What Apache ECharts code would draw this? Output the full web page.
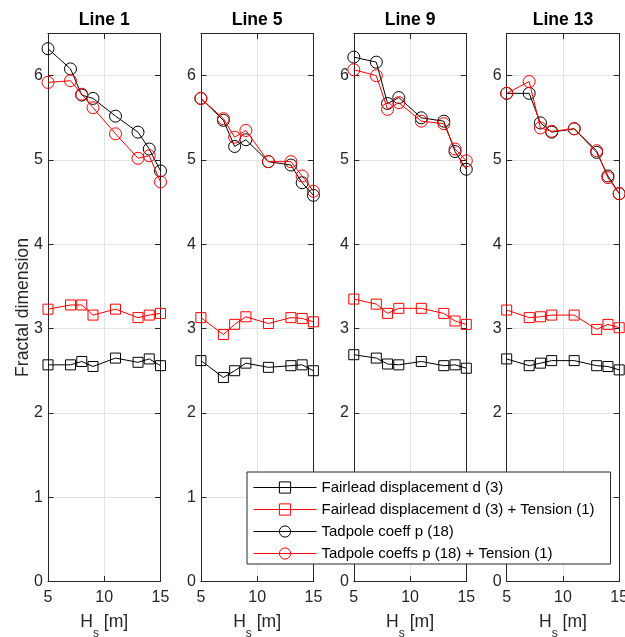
<!DOCTYPE html>
<html>
<head>
<meta charset="utf-8">
<script src="https://cdn.jsdelivr.net/npm/echarts@6/dist/echarts.min.js"></script>
<style>
  html, body { margin: 0; padding: 0; background: #fff; }
  #chart { width: 625px; height: 637px; }
</style>
</head>
<body>
<div id="chart"></div>
<script>
// Significant wave height (m) at which each case was evaluated
const hs = [5, 7, 8, 9, 11, 13, 14, 15];

const panelTitles = ['Line 1', 'Line 5', 'Line 9', 'Line 13'];

const seriesNames = [
  'Fairlead displacement d (3)',
  'Fairlead displacement d (3) + Tension (1)',
  'Tadpole coeff p (18)',
  'Tadpole coeffs p (18) + Tension (1)'
];

// Fractal dimension, one array per feature set and mooring line
const dispLine1 = [2.57, 2.57, 2.61, 2.55, 2.65, 2.60, 2.64, 2.56];
const dispTensionLine1 = [3.23, 3.28, 3.28, 3.16, 3.23, 3.13, 3.16, 3.18];
const tadpoleLine1 = [6.32, 6.08, 5.77, 5.73, 5.52, 5.33, 5.13, 4.87];
const tadpoleTensionLine1 = [5.92, 5.94, 5.78, 5.62, 5.31, 5.02, 5.05, 4.74];

const dispLine5 = [2.62, 2.42, 2.50, 2.59, 2.54, 2.56, 2.57, 2.50];
const dispTensionLine5 = [3.13, 2.93, 3.05, 3.14, 3.06, 3.13, 3.12, 3.08];
const tadpoleLine5 = [5.73, 5.47, 5.16, 5.24, 4.98, 4.94, 4.73, 4.58];
const tadpoleTensionLine5 = [5.73, 5.49, 5.27, 5.35, 4.98, 4.98, 4.81, 4.63];

const dispLine9 = [2.69, 2.65, 2.58, 2.57, 2.61, 2.56, 2.57, 2.53];
const dispTensionLine9 = [3.35, 3.29, 3.18, 3.24, 3.24, 3.18, 3.09, 3.05];
const tadpoleLine9 = [6.22, 6.16, 5.67, 5.74, 5.50, 5.46, 5.10, 4.89];
const tadpoleTensionLine9 = [6.07, 6.00, 5.60, 5.68, 5.46, 5.43, 5.13, 4.99];

const dispLine13 = [2.64, 2.56, 2.59, 2.62, 2.62, 2.56, 2.55, 2.51];
const dispTensionLine13 = [3.22, 3.13, 3.14, 3.16, 3.16, 2.99, 3.05, 3.01];
const tadpoleLine13 = [5.79, 5.79, 5.44, 5.33, 5.37, 5.09, 4.81, 4.60];
const tadpoleTensionLine13 = [5.79, 5.93, 5.38, 5.34, 5.37, 5.11, 4.79, 4.60];

const panels = [
  [dispLine1, dispTensionLine1, tadpoleLine1, tadpoleTensionLine1],
  [dispLine5, dispTensionLine5, tadpoleLine5, tadpoleTensionLine5],
  [dispLine9, dispTensionLine9, tadpoleLine9, tadpoleTensionLine9],
  [dispLine13, dispTensionLine13, tadpoleLine13, tadpoleTensionLine13]
];

const yTicks = [0, 1, 2, 3, 4, 5, 6];
const xTicks = [5, 10, 15];

// Styling per feature set: colour and marker
const seriesColors = ['#000000', '#ff0000', '#000000', '#ff0000'];
const seriesSymbols = ['rect', 'rect', 'circle', 'circle'];
const seriesSymbolSizes = [10, 10, 12, 12];

const FONT = '"Liberation Sans", Arial, Helvetica, sans-serif';
const AXIS_COLOR = '#262626';
const GRID_COLOR = '#e3e3e3';

const gridLefts = [48, 200.9, 353.8, 506.7];
const gridWidth = 112.5;
const gridTop = 33.5;
const gridHeight = 548;

const grids = [];
const xAxes = [];
const yAxes = [];
const titles = [];
const series = [];

panels.forEach((panel, p) => {
  grids.push({
    left: gridLefts[p], top: gridTop, width: gridWidth, height: gridHeight,
    containLabel: false, outerBoundsMode: 'none'
  });

  titles.push({
    text: panelTitles[p],
    left: gridLefts[p] + gridWidth / 2,
    top: 11,
    textAlign: 'center',
    padding: 0,
    textStyle: { fontFamily: FONT, fontSize: 17.6, fontWeight: 'bold', color: '#000' }
  });

  const tickStyle = { show: true, inside: true, length: 5.5, lineStyle: { color: AXIS_COLOR, width: 1 } };
  const lineStyle = { show: true, onZero: false, lineStyle: { color: AXIS_COLOR, width: 1 } };

  // bottom x axis with labels
  xAxes.push({
    type: 'value', gridIndex: p, position: 'bottom',
    min: xTicks[0], max: xTicks[xTicks.length - 1], interval: xTicks[1] - xTicks[0],
    axisLine: lineStyle, axisTick: tickStyle,
    splitLine: { show: true, lineStyle: { color: GRID_COLOR, width: 1 } },
    axisLabel: { show: true, margin: 8, fontFamily: FONT, fontSize: 16, color: AXIS_COLOR },
    name: '{m|H}{sub|s}{m| [m]}',
    nameLocation: 'middle',
    nameGap: 32,
    nameMoveOverlap: false,
    nameTextStyle: {
      fontFamily: FONT, fontSize: 17.6, color: AXIS_COLOR,
      rich: {
        m: { fontFamily: FONT, fontSize: 17.6, lineHeight: 22, verticalAlign: 'top', color: AXIS_COLOR },
        sub: { fontFamily: FONT, fontSize: 12, lineHeight: 12, padding: [14, 0, 0, 0], verticalAlign: 'top', color: AXIS_COLOR }
      }
    }
  });
  // top x axis, ticks only
  xAxes.push({
    type: 'value', gridIndex: p, position: 'top',
    min: xTicks[0], max: xTicks[xTicks.length - 1], interval: xTicks[1] - xTicks[0],
    axisLine: lineStyle, axisTick: tickStyle,
    splitLine: { show: false }, axisLabel: { show: false }
  });
  // left y axis with labels
  yAxes.push({
    type: 'value', gridIndex: p, position: 'left',
    min: yTicks[0], max: 6.5, interval: yTicks[1] - yTicks[0],
    axisLine: lineStyle, axisTick: tickStyle,
    splitLine: { show: true, lineStyle: { color: GRID_COLOR, width: 1 } },
    axisLabel: { show: true, margin: 5, showMaxLabel: false, fontFamily: FONT, fontSize: 16, color: AXIS_COLOR },
    name: p === 0 ? 'Fractal dimension' : '',
    nameLocation: 'middle',
    nameGap: 16,
    nameMoveOverlap: false,
    nameTextStyle: { fontFamily: FONT, fontSize: 17.6, color: AXIS_COLOR }
  });
  // right y axis, ticks only
  yAxes.push({
    type: 'value', gridIndex: p, position: 'right',
    min: yTicks[0], max: 6.5, interval: yTicks[1] - yTicks[0],
    axisLine: lineStyle, axisTick: tickStyle,
    splitLine: { show: false }, axisLabel: { show: false }
  });

  panel.forEach((values, s) => {
    series.push({
      name: seriesNames[s],
      type: 'line',
      xAxisIndex: p * 2,
      yAxisIndex: p * 2,
      data: hs.map((h, i) => [h, values[i]]),
      symbol: seriesSymbols[s],
      symbolSize: seriesSymbolSizes[s],
      showAllSymbol: true,
      clip: false,
      silent: true,
      z: 2 + s,
      lineStyle: { color: seriesColors[s], width: 1 },
      itemStyle: { color: 'rgba(0,0,0,0)', borderColor: seriesColors[s], borderWidth: 1 },
      emphasis: { disabled: true }
    });
  });
});

const chart = echarts.init(document.getElementById('chart'), null, { renderer: 'canvas' });
chart.setOption({
  animation: false,
  backgroundColor: '#ffffff',
  title: titles,
  grid: grids,
  xAxis: xAxes,
  yAxis: yAxes,
  legend: {
    data: seriesNames,
    orient: 'vertical',
    left: 247,
    top: 472,
    padding: [8, 16, 3, 6],
    itemWidth: 63,
    itemHeight: 14,
    itemGap: 7,
    selectedMode: false,
    backgroundColor: '#ffffff',
    borderColor: AXIS_COLOR,
    borderWidth: 1,
    lineStyle: { width: 1 },
    itemStyle: { borderWidth: 1 },
    textStyle: { fontFamily: FONT, fontSize: 15, color: '#000' },
    z: 20
  },
  series: series
});
</script>
</body>
</html>
